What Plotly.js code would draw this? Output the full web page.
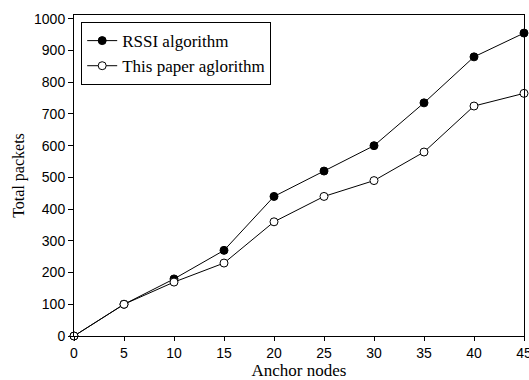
<!DOCTYPE html>
<html>
<head>
<meta charset="utf-8">
<script src="https://cdn.plot.ly/plotly-3.0.1.min.js"></script>
<style>html,body{margin:0;padding:0;background:#fff;}#chart{width:529px;height:380px;}</style>
</head>
<body>
<div id="chart"></div>
<script>
const anchorNodes = [0, 5, 10, 15, 20, 25, 30, 35, 40, 45];
const rssiPackets = [0, 100, 180, 270, 440, 520, 600, 735, 880, 955];
const paperPackets = [0, 100, 170, 230, 360, 440, 490, 580, 725, 765];
const xTicks = [0, 5, 10, 15, 20, 25, 30, 35, 40, 45];
const yTicks = [0, 100, 200, 300, 400, 500, 600, 700, 800, 900, 1000];

const serif = "Liberation Serif, Times New Roman, serif";
const sans = "Liberation Sans, Arial, sans-serif";

const traces = [
  {
    x: anchorNodes, y: rssiPackets, name: "RSSI algorithm",
    mode: "lines+markers", cliponaxis: false,
    line: {color: "#000", width: 1},
    marker: {symbol: "circle", size: 8, color: "#000", line: {color: "#000", width: 1}}
  },
  {
    x: anchorNodes, y: paperPackets, name: "This paper aglorithm",
    mode: "lines+markers", cliponaxis: false,
    line: {color: "#000", width: 1},
    marker: {symbol: "circle", size: 8, color: "#fff", line: {color: "#000", width: 1}}
  }
];

const layout = {
  width: 529, height: 380,
  margin: {l: 74, r: 5, t: 15, b: 44},
  paper_bgcolor: "#fff", plot_bgcolor: "#fff",
  showlegend: true,
  legend: {
    x: 0.016, y: 0.978, xanchor: "left", yanchor: "top",
    bordercolor: "#000", borderwidth: 1, bgcolor: "#fff",
    font: {family: serif, size: 17, color: "#000"},
    tracegroupgap: 0
  },
  xaxis: {
    range: [0, 45], tickvals: xTicks, ticktext: xTicks.map(String),
    showgrid: false, zeroline: false,
    showline: true, linecolor: "#000", linewidth: 1, mirror: true,
    ticks: "outside", ticklen: 4, tickcolor: "#000", tickwidth: 1,
    ticklabeloverflow: "allow",
    tickfont: {family: sans, size: 14, color: "#000"},
    title: {text: "Anchor nodes", font: {family: serif, size: 17, color: "#000"}, standoff: 3}
  },
  yaxis: {
    range: [0, 1012], tickvals: yTicks, ticktext: yTicks.map(String),
    showgrid: false, zeroline: false,
    showline: true, linecolor: "#000", linewidth: 1, mirror: true,
    ticks: "outside", ticklen: 5, tickcolor: "#000", tickwidth: 1,
    tickfont: {family: sans, size: 14, color: "#000"},
    title: {text: "Total packets", font: {family: serif, size: 16, color: "#000"}, standoff: 5}
  }
};

Plotly.newPlot("chart", traces, layout, {displayModeBar: false, staticPlot: true});
</script>
</body>
</html>
